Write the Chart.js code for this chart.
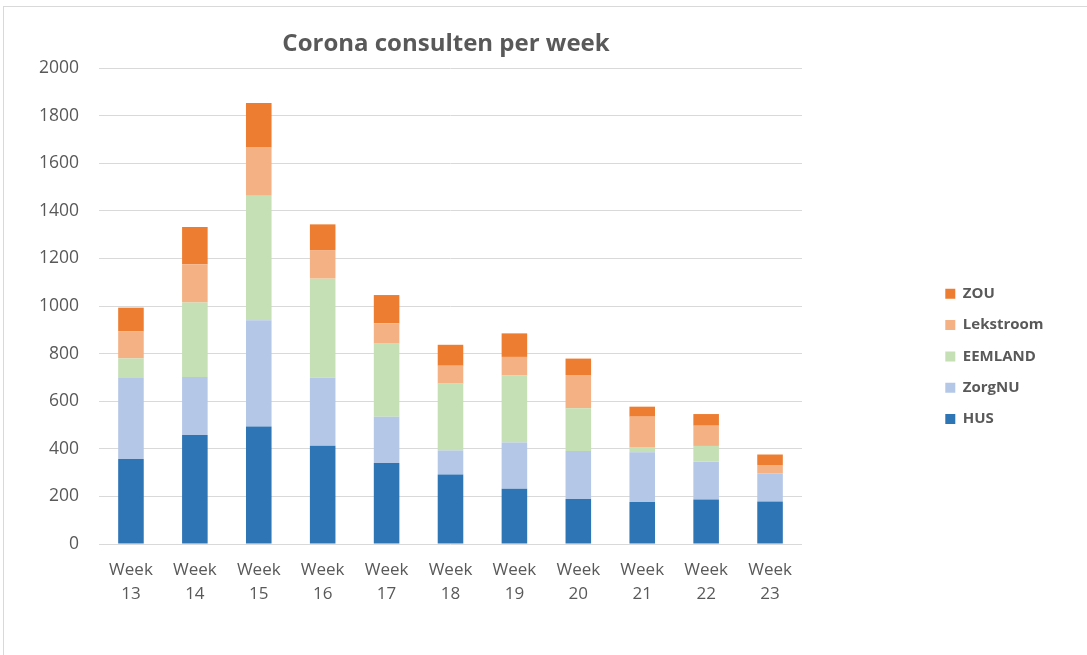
<!DOCTYPE html>
<html>
<head>
<meta charset="utf-8">
<script src="https://cdn.jsdelivr.net/npm/chart.js"></script>
<style>
  body { margin: 0; background: #fff; }
  #wrap { position: relative; width: 1087px; height: 655px; }
  #frame { position: absolute; left: 3px; top: 6px; right: 0; bottom: 0; border-top: 1px solid #d9d9d9; border-left: 1px solid #d9d9d9; }
  #myChart { position: absolute; left: 0; top: 0; }
</style>
</head>
<body>
<div id="wrap">
  <div id="frame"></div>
  <canvas id="myChart" width="1087" height="655"></canvas>
</div>
<script>
var weeks = ['13', '14', '15', '16', '17', '18', '19', '20', '21', '22', '23'];
var hus       = [357, 458, 494, 413, 340, 292, 232, 189, 176, 187, 179];
var zorgnu    = [340, 244, 446, 286, 195, 101, 194, 202, 209, 159, 118];
var eemland   = [83, 313, 523, 416, 307, 281, 282, 179, 20, 66, 0];
var lekstroom = [113, 160, 205, 120, 85, 75, 78, 140, 130, 85, 35];
var zou       = [100, 157, 185, 108, 119, 88, 99, 69, 42, 49, 44];

var textColor = '#595959';
var fontName = "'Open Sans', 'Noto Sans', sans-serif";

// legend and title sit where Excel put them
var placeBoxes = {
  id: 'placeBoxes',
  afterLayout: function(chart) {
    var lg = chart.legend;
    var h = lg.height;
    lg.left = 929;
    lg.right = 929 + lg.width;
    lg.top = 270;
    lg.bottom = 270 + h;
    var t = chart.titleBlock;
    t.left = 146;
    t.right = 746;
  }
};

function set(label, data, color) {
  return {
    label: label,
    data: data,
    backgroundColor: color,
    borderWidth: 0,
    categoryPercentage: 1,
    barPercentage: 0.4
  };
}

var ctx = document.getElementById('myChart');
var myChart = new Chart(ctx, {
  type: 'bar',
  data: {
    labels: weeks.map(function(w) { return ['Week', w]; }),
    datasets: [
      set('HUS', hus, '#2e75b6'),
      set('ZorgNU', zorgnu, '#b4c7e7'),
      set('EEMLAND', eemland, '#c5e0b4'),
      set('Lekstroom', lekstroom, '#f4b183'),
      set('ZOU', zou, '#ed7d31')
    ]
  },
  options: {
    responsive: false,
    animation: false,
    devicePixelRatio: 1,
    layout: { padding: { left: 0, right: 285, top: 0, bottom: 0 } },
    plugins: {
      title: {
        display: true,
        text: 'Corona consulten per week',
        color: textColor,
        font: { family: fontName, size: 24, weight: 'bold', lineHeight: 1.2 },
        padding: { top: 30, bottom: 9.2 }
      },
      legend: {
        position: 'chartArea',
        align: 'start',
        reverse: true,
        labels: {
          boxWidth: 10,
          boxHeight: 10,
          padding: 16.3,
          color: textColor,
          font: { family: fontName, size: 15, weight: 'bold' }
        }
      },
      tooltip: { enabled: false }
    },
    scales: {
      x: {
        stacked: true,
        grid: { display: false },
        border: { display: false },
        ticks: {
          color: textColor,
          padding: 6,
          maxRotation: 0,
          font: { family: fontName, size: 17, lineHeight: 1.4 }
        },
        afterFit: function(scale) { scale.height = 111; }
      },
      y: {
        stacked: true,
        min: 0,
        max: 2000,
        grid: { color: '#d9d9d9', lineWidth: 1, drawTicks: false },
        border: { display: false },
        ticks: {
          stepSize: 200,
          color: textColor,
          padding: 20,
          font: { family: fontName, size: 17.5 },
          callback: function(value) { return String(value); }
        },
        afterFit: function(scale) { scale.width = 99; }
      }
    }
  },
  plugins: [placeBoxes]
});
</script>
</body>
</html>
